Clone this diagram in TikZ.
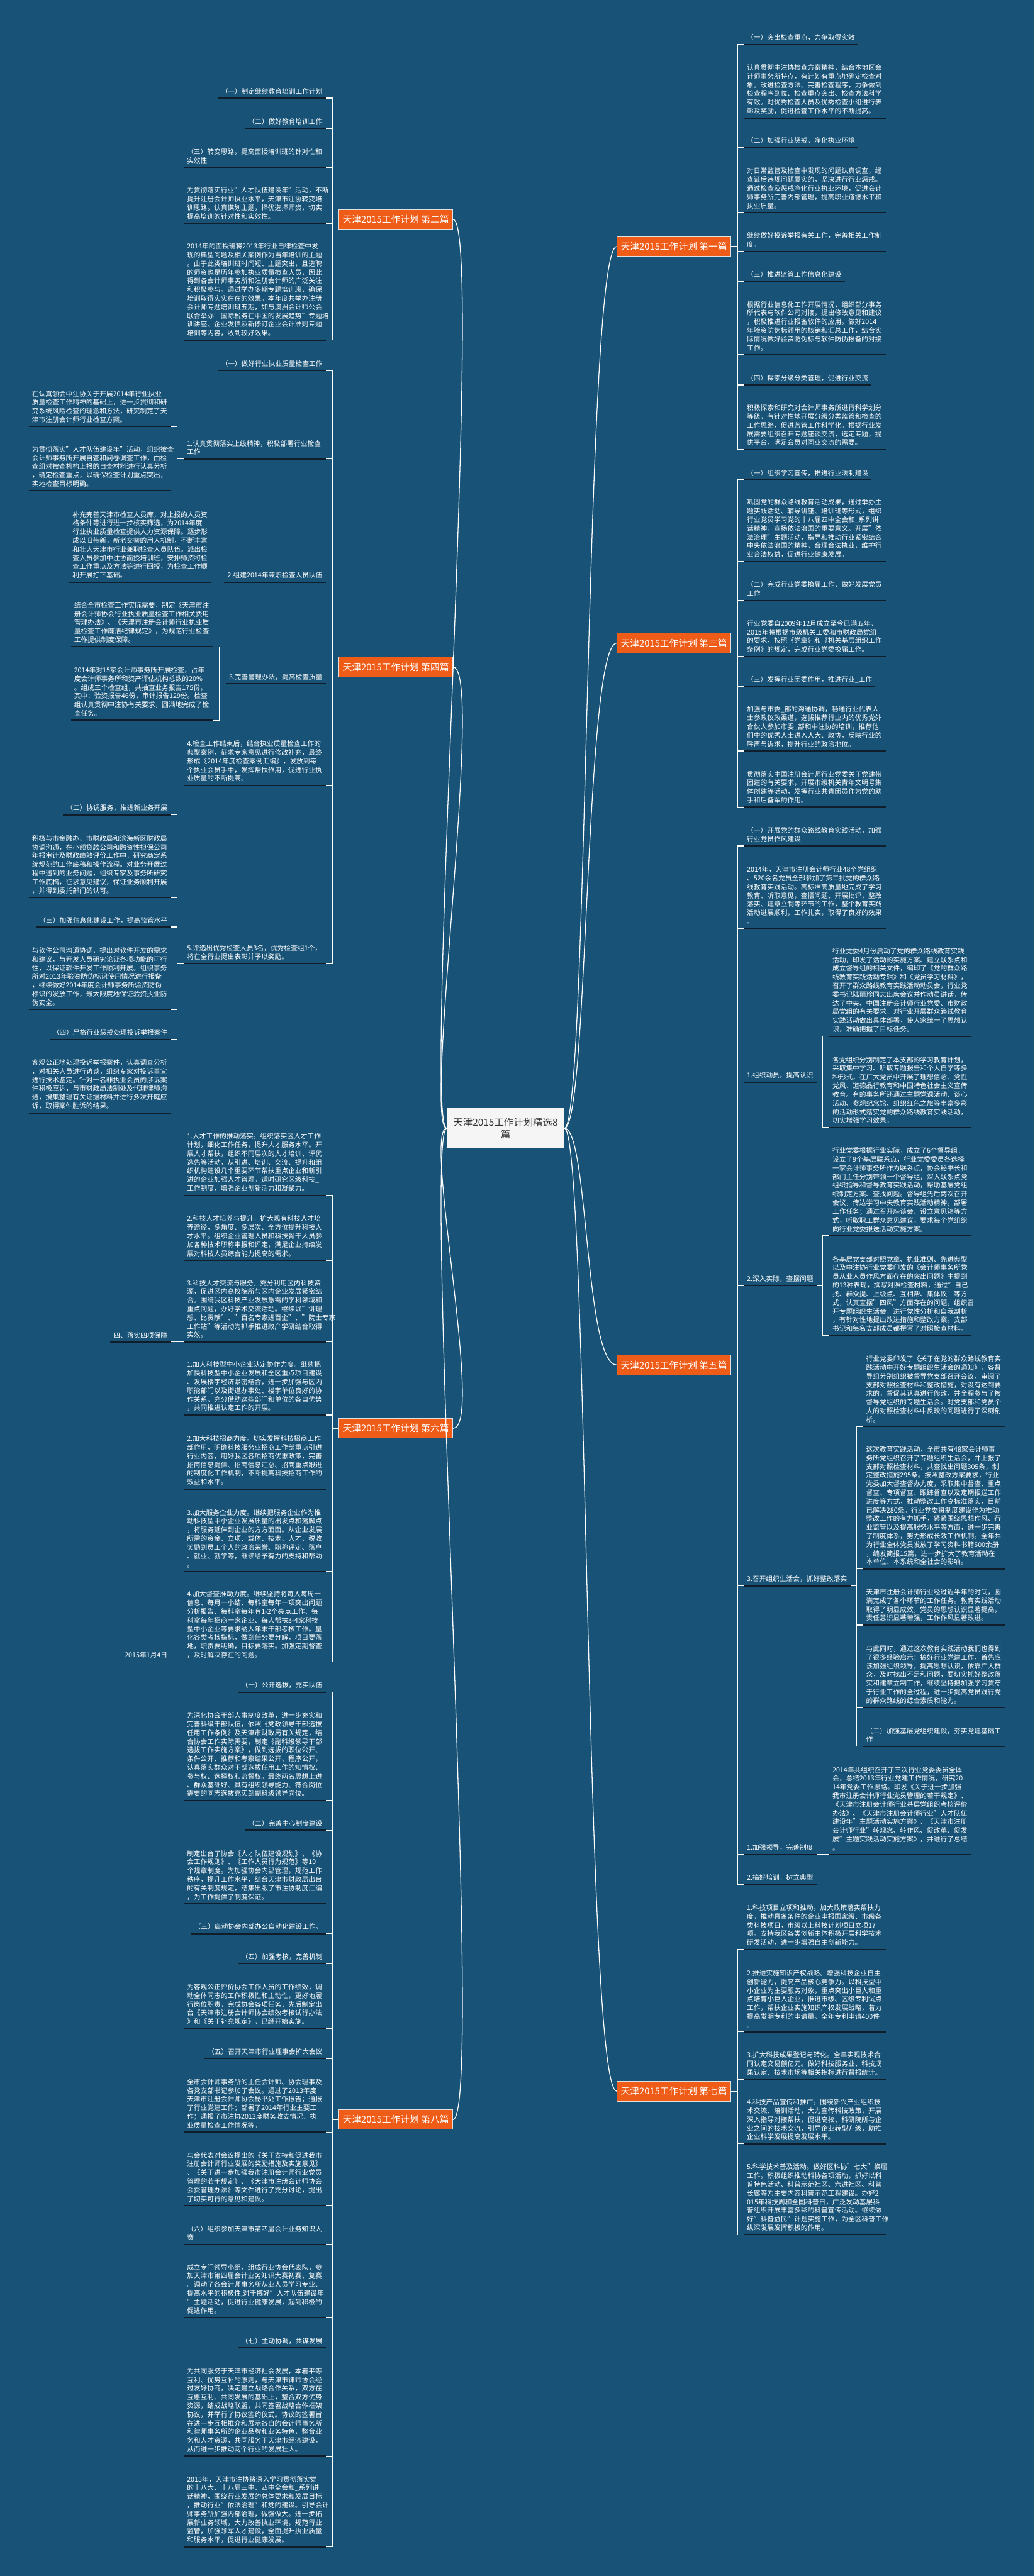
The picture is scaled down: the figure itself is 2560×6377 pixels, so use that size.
\documentclass[tikz,border=0pt]{standalone}
\usepackage{fontspec}
\setmainfont{Noto Sans CJK SC}
\usetikzlibrary{positioning}
\definecolor{bgblue}{RGB}{24,83,119}
\definecolor{topicred}{RGB}{238,92,24}
\definecolor{inkdark}{RGB}{16,30,44}
\definecolor{rimgray}{RGB}{225,225,225}

\begin{document}
\begin{tikzpicture}[x=1pt, y=-1pt,
    para/.style={text=white, text width=335pt, align=left, inner xsep=8pt, inner ysep=9pt,
                 font=\fontsize{16.7}{21.5}\selectfont},
    item/.style={text=white, align=left, inner xsep=8pt, inner ysep=9pt,
                 font=\fontsize{16.7}{21.5}\selectfont},
    topic/.style={fill=topicred, draw=rimgray, line width=1.5pt, text=white, inner xsep=9pt,
                  minimum height=49pt, font=\fontsize{23}{27}\selectfont},
    hub/.style={fill=white!96!black, text=black!80, align=center, inner xsep=16pt, inner ysep=24pt,
                font=\fontsize{24}{30}\selectfont},
    wire/.style={white, line width=2pt},
    uline/.style={inkdark, line width=3pt},
    lnk/.style={white, line width=2pt}]
  \fill[bgblue] (0,0) rectangle (2560,6377);
  \useasboundingbox (0,0) rectangle (2560,6377);

  % centre and the eight topics
  \node[hub] (root) at (1251,2793) {天津2015工作计划精选8\\篇};
  \node[topic, anchor=east] (br1) at (1809,610) {天津2015工作计划 第一篇};
  \node[topic, anchor=west] (br2) at (838,543) {天津2015工作计划 第二篇};
  \node[topic, anchor=east] (br3) at (1809,1592) {天津2015工作计划 第三篇};
  \node[topic, anchor=west] (br4) at (838,1651) {天津2015工作计划 第四篇};
  \node[topic, anchor=east] (br5) at (1809,3379) {天津2015工作计划 第五篇};
  \node[topic, anchor=west] (br6) at (838,3536) {天津2015工作计划 第六篇};
  \node[topic, anchor=east] (br7) at (1809,5177) {天津2015工作计划 第七篇};
  \node[topic, anchor=west] (br8) at (838,5247) {天津2015工作计划 第八篇};
  \foreach \b in {br2,br4,br6,br8}
    \draw[lnk] (root.west) .. controls +(-60,0) and +(80,0) .. (\b.east);
  \foreach \b in {br1,br3,br5,br7}
    \draw[lnk] (root.east) .. controls +(60,0) and +(-80,0) .. (\b.west);

  % 第二篇
  \node[item, anchor=south east] (a1) at (806,243) {（一）制定继续教育培训工作计划};
  \node[item, anchor=south east] (a2) at (806,318) {（二）做好教育培训工作};
  \node[para, anchor=south east] (a3) at (806,414) {（三）转变思路，提高面授培训班的针对性和\\实效性};
  \node[para, anchor=south east] (a4) at (806,553) {为贯彻落实行业"人才队伍建设年"活动，不断\\提升注册会计师执业水平，天津市注协转变培\\训思路，认真谋划主题，择优选择师资，切实\\提高培训的针对性和实效性。};
  \node[para, anchor=south east] (a5) at (806,842) {2014年的面授班将2013年行业自律检查中发\\现的典型问题及相关案例作为当年培训的主题\\。由于此类培训班时间短、主题突出，且选聘\\的师资也是历年参加执业质量检查人员，因此\\得到各会计师事务所和注册会计师的广泛关注\\和积极参与。通过举办多期专题培训班，确保\\培训取得实实在在的效果。本年度共举办注册\\会计师专题培训班五期，如与澳洲会计师公会\\联合举办"国际税务在中国的发展趋势"专题培\\训讲座、企业发债及新修订企业会计准则专题\\培训等内容，收到较好效果。};

  % 第四篇
  \node[item, anchor=south east] (b1) at (806,917) {（一）做好行业执业质量检查工作};
  \node[para, anchor=south east] (b2) at (806,1136) {1.认真贯彻落实上级精神，积极部署行业检查\\工作};
  \node[para, anchor=south east, xshift=-32pt] (b2a) at (b2.west |- 0,1056) {在认真领会中注协关于开展2014年行业执业\\质量检查工作精神的基础上，进一步贯彻和研\\究系统风险检查的理念和方法，研究制定了天\\津市注册会计师行业检查方案。};
  \node[para, anchor=south east, xshift=-32pt] (b2b) at (b2.west |- 0,1215) {为贯彻落实"人才队伍建设年"活动，组织被查\\会计师事务所开展自查和问卷调查工作，由检\\查组对被查机构上报的自查材料进行认真分析\\，确定检查重点，以确保检查计划重点突出，\\实地检查目标明确。};
  \node[item, anchor=south east] (b3) at (806,1441) {2.组建2014年兼职检查人员队伍};
  \node[para, left=32pt of b3.south west, anchor=south east] (b3a) {补充完善天津市检查人员库，对上报的人员资\\格条件等进行进一步核实筛选，为2014年度\\行业执业质量检查提供人力资源保障。逐步形\\成以旧带新，新老交替的用人机制，不断丰富\\和壮大天津市行业兼职检查人员队伍。派出检\\查人员参加中注协面授培训班，安排师资将检\\查工作重点及方法等进行回授，为检查工作顺\\利开展打下基础。};
  \node[item, anchor=south east] (b4) at (806,1693) {3.完善管理办法，提高检查质量};
  \node[para, anchor=south east, xshift=-32pt] (b4a) at (b4.west |- 0,1601) {结合全市检查工作实际需要，制定《天津市注\\册会计师协会行业执业质量检查工作相关费用\\管理办法》、《天津市注册会计师行业执业质\\量检查工作廉洁纪律规定》，为规范行业检查\\工作提供制度保障。};
  \node[para, anchor=south east, xshift=-32pt] (b4b) at (b4.west |- 0,1783) {2014年对15家会计师事务所开展检查，占年\\度会计师事务所和资产评估机构总数的20\%\\。组成三个检查组，共抽查业务报告175份，\\其中：验资报告46份，审计报告129份。检查\\组认真贯彻中注协有关要求，圆满地完成了检\\查任务。};
  \node[para, anchor=south east] (b5) at (806,1944) {4.检查工作结束后，结合执业质量检查工作的\\典型案例，征求专家意见进行修改补充，最终\\形成《2014年度检查案例汇编》，发放到每\\个执业会员手中，发挥帮扶作用，促进行业执\\业质量的不断提高。};
  \node[para, anchor=south east] (b6) at (806,2385) {5.评选出优秀检查人员3名，优秀检查组1个，\\将在全行业提出表彰并予以奖励。};
  \node[item, anchor=south east, xshift=-32pt] (b6a) at (b6.west |- 0,2017) {（二）协调服务，推进新业务开展};
  \node[para, anchor=south east, xshift=-32pt] (b6b) at (b6.west |- 0,2222) {积极与市金融办、市财政局和滨海新区财政局\\协调沟通，在小额贷款公司和融资性担保公司\\年报审计及财政绩效评价工作中，研究商定系\\统规范的工作底稿和操作流程。对业务开展过\\程中遇到的业务问题，组织专家及事务所研究\\工作底稿，征求意见建议，保证业务顺利开展\\，并得到委托部门的认可。};
  \node[item, anchor=south east, xshift=-32pt] (b6c) at (b6.west |- 0,2295) {（三）加强信息化建设工作，提高监管水平};
  \node[para, anchor=south east, xshift=-32pt] (b6d) at (b6.west |- 0,2499) {与软件公司沟通协调，提出对软件开发的需求\\和建议，与开发人员研究论证各项功能的可行\\性，以保证软件开发工作顺利开展。组织事务\\所对2013年验资防伪标识使用情况进行报备\\，继续做好2014年度会计师事务所验资防伪\\标识的发放工作，最大限度地保证验资执业防\\伪安全。};
  \node[item, anchor=south east, xshift=-32pt] (b6e) at (b6.west |- 0,2573) {（四）严格行业惩戒处理投诉举报案件};
  \node[para, anchor=south east, xshift=-32pt] (b6f) at (b6.west |- 0,2755) {客观公正地处理投诉举报案件，认真调查分析\\，对相关人员进行访谈，组织专家对投诉事宜\\进行技术鉴定。针对一名非执业会员的涉诉案\\件积极应诉，与市财政局法制处及代理律师沟\\通，搜集整理有关证据材料并进行多次开庭应\\诉，取得案件胜诉的结果。};

  % 第六篇
  \node[para, anchor=south east] (c1) at (806,2959) {1.人才工作的推动落实。组织落实区人才工作\\计划，细化工作任务，提升人才服务水平。开\\展人才帮扶，组织不同层次的人才培训、评优\\选先等活动，从引进、培训、交流、提升和组\\织机构建设几个重要环节帮扶重点企业和新引\\进的企业加强人才管理。适时研究区级科技\_\\工作制度，增强企业创新活力和凝聚力。};
  \node[para, anchor=south east] (c2) at (806,3120) {2.科技人才培养与提升。扩大现有科技人才培\\养途径，多角度、多层次、全方位提升科技人\\才水平。组织企业管理人员和科技骨干人员参\\加各种技术职称申报和评定，满足企业持续发\\展对科技人员综合能力提高的需求。};
  \node[para, anchor=south east] (c3) at (806,3322) {3.科技人才交流与服务。充分利用区内科技资\\源，促进区内高校院所与区内企业发展紧密结\\合。围绕我区科技产业发展急需的学科领域和\\重点问题，办好学术交流活动。继续以"讲理\\想、比贡献"、"百名专家进百企"、"院士专家\\工作站"等活动为抓手推进政产学研结合取得\\实效。};
  \node[item, left=32pt of c3.south west, anchor=south east] (c3a) {四、落实四项保障};
  \node[para, anchor=south east] (c4) at (806,3503) {1.加大科技型中小企业认定协作力度。继续把\\加快科技型中小企业发展和全区重点项目建设\\、发展楼宇经济紧密结合，进一步加强与区内\\职能部门以及街道办事处、楼宇单位良好的协\\作关系，充分借助这些部门和单位的各自优势\\，共同推进认定工作的开展。};
  \node[para, anchor=south east] (c5) at (806,3686) {2.加大科技招商力度。切实发挥科技招商工作\\部作用，明确科技服务业招商工作部重点引进\\行业内容，用好我区各项招商优惠政策，完善\\招商信息提供、招商信息汇总、招商重点跟进\\的制度化工作机制，不断提高科技招商工作的\\效益和水平。};
  \node[para, anchor=south east] (c6) at (806,3890) {3.加大服务企业力度。继续把服务企业作为推\\动科技型中小企业发展质量的出发点和落脚点\\，将服务延伸到企业的方方面面。从企业发展\\所需的资金、立项、载体、技术、人才、税收\\奖励到员工个人的政治荣誉、职称评定、落户\\、就业、就学等，继续给予有力的支持和帮助\\。};
  \node[para, anchor=south east] (c7) at (806,4114) {4.加大督查推动力度。继续坚持将每人每周一\\信息、每月一小结、每科室每年一项突出问题\\分析报告、每科室每年有1-2个亮点工作、每\\科室每年招商一家企业、每人帮扶3-4家科技\\型中小企业等要求纳入年末干部考核工作。量\\化各类考核指标，做到任务要分解，项目要落\\地，职责要明确，目标要落实。加强定期督查\\，及时解决存在的问题。};
  \node[item, left=32pt of c7.south west, anchor=south east] (c7a) {2015年1月4日};

  % 第八篇
  \node[item, anchor=south east] (d1) at (806,4189) {（一）公开选拔，充实队伍};
  \node[para, anchor=south east] (d2) at (806,4457) {为深化协会干部人事制度改革，进一步充实和\\完善科级干部队伍，依照《党政领导干部选拔\\任用工作条例》及天津市财政局有关规定，结\\合协会工作实际需要，制定《副科级领导干部\\选拔工作实施方案》，做到选拔的职位公开、\\条件公开、推荐和考察结果公开、程序公开，\\认真落实群众对干部选拔任用工作的知情权、\\参与权、选择权和监督权。最终两名思想上进\\、群众基础好、具有组织领导能力、符合岗位\\需要的同志选拔充实到副科级领导岗位。};
  \node[item, anchor=south east] (d3) at (806,4531) {（二）完善中心制度建设};
  \node[para, anchor=south east] (d4) at (806,4713) {制定出台了协会《人才队伍建设规划》、《协\\会工作规则》、《工作人员行为规范》等19\\个规章制度。为加强协会内部管理，规范工作\\秩序，提升工作水平，结合天津市财政局出台\\的有关制度规定，结集出版了市注协制度汇编\\，为工作提供了制度保证。};
  \node[item, anchor=south east] (d5) at (806,4787) {（三）启动协会内部办公自动化建设工作。};
  \node[item, anchor=south east] (d6) at (806,4861) {（四）加强考核，完善机制};
  \node[para, anchor=south east] (d7) at (806,5022) {为客观公正评价协会工作人员的工作绩效，调\\动全体同志的工作积极性和主动性，更好地履\\行岗位职责，完成协会各项任务，先后制定出\\台《天津市注册会计师协会绩效考核试行办法\\》和《关于补充规定》，已经开始实施。};
  \node[item, anchor=south east] (d8) at (806,5096) {（五）召开天津市行业理事会扩大会议};
  \node[para, anchor=south east] (d9) at (806,5278) {全市会计师事务所的主任会计师、协会理事及\\各党支部书记参加了会议。通过了2013年度\\天津市注册会计师协会秘书处工作报告；通报\\了行业党建工作；部署了2014年行业主要工\\作；通报了市注协2013度财务收支情况、执\\业质量检查工作情况等。};
  \node[para, anchor=south east] (d10) at (806,5460) {与会代表对会议提出的《关于支持和促进我市\\注册会计师行业发展的奖励措施及实施意见》\\、《关于进一步加强我市注册会计师行业党员\\管理的若干规定》、《天津市注册会计师协会\\会费管理办法》等文件进行了充分讨论，提出\\了切实可行的意见和建议。};
  \node[para, anchor=south east] (d11) at (806,5556) {（六）组织参加天津市第四届会计业务知识大\\赛};
  \node[para, anchor=south east] (d12) at (806,5737) {成立专门领导小组，组成行业协会代表队，参\\加天津市第四届会计业务知识大赛初赛、复赛\\。调动了各会计师事务所从业人员学习专业、\\提高水平的积极性,对于搞好"人才队伍建设年\\"主题活动，促进行业健康发展，起到积极的\\促进作用。};
  \node[item, anchor=south east] (d13) at (806,5812) {（七）主动协调，共谋发展};
  \node[para, anchor=south east] (d14) at (806,6080) {为共同服务于天津市经济社会发展，本着平等\\互利、优势互补的原则，与天津市律师协会经\\过友好协商，决定建立战略合作关系，双方在\\互惠互利、共同发展的基础上，整合双方优势\\资源，结成战略联盟，共同签署战略合作框架\\协议，并举行了协议签约仪式。协议的签署旨\\在进一步互相推介和展示各自的会计师事务所\\和律师事务所的企业品牌和业务特色，整合业\\务和人才资源，共同服务于天津市经济建设，\\从而进一步推动两个行业的发展壮大。};
  \node[para, anchor=south east] (d15) at (806,6305) {2015年，天津市注协将深入学习贯彻落实党\\的十八大、十八届三中、四中全会和\_系列讲\\话精神，围绕行业发展的总体要求和发展目标\\，推动行业"依法治理"和党的建设。引导会计\\师事务所加强内部治理，做强做大。进一步拓\\展新业务领域，大力改善执业环境，规范行业\\监管，加强领军人才建设，全面提升执业质量\\和服务水平，促进行业健康发展。};

  % 第一篇
  \node[item, anchor=south west] (e1) at (1840,110) {（一）突出检查重点，力争取得实效};
  \node[para, anchor=south west] (e2) at (1840,292) {认真贯彻中注协检查方案精神，结合本地区会\\计师事务所特点，有计划有重点地确定检查对\\象。改进检查方法、完善检查程序，力争做到\\检查程序到位、检查重点突出、检查方法科学\\有效。对优秀检查人员及优秀检查小组进行表\\彰及奖励，促进检查工作水平的不断提高。};
  \node[item, anchor=south west] (e3) at (1840,365) {（二）加强行业惩戒，净化执业环境};
  \node[para, anchor=south west] (e4) at (1840,526) {对日常监管及检查中发现的问题认真调查，经\\查证后违规问题属实的，坚决进行行业惩戒。\\通过检查及惩戒净化行业执业环境，促进会计\\师事务所完善内部管理，提高职业道德水平和\\执业质量。};
  \node[para, anchor=south west] (e5) at (1840,622) {继续做好投诉举报有关工作，完善相关工作制\\度。};
  \node[item, anchor=south west] (e6) at (1840,697) {（三）推进监管工作信息化建设};
  \node[para, anchor=south west] (e7) at (1840,878) {根据行业信息化工作开展情况，组织部分事务\\所代表与软件公司对接，提出修改意见和建议\\，积极推进行业报备软件的应用。做好2014\\年验资防伪标领用的核销和汇总工作，结合实\\际情况做好验资防伪标与软件防伪报备的对接\\工作。};
  \node[item, anchor=south west] (e8) at (1840,953) {（四）探索分级分类管理，促进行业交流};
  \node[para, anchor=south west] (e9) at (1840,1113) {积极探索和研究对会计师事务所进行科学划分\\等级，有针对性地开展分级分类监管和检查的\\工作思路，促进监管工作科学化。根据行业发\\展需要组织召开专题座谈交流，选定专题，提\\供平台，满足会员对同业交流的需要。};

  % 第三篇
  \node[item, anchor=south west] (f1) at (1840,1188) {（一）组织学习宣传，推进行业法制建设};
  \node[para, anchor=south west] (f2) at (1840,1390) {巩固党的群众路线教育活动成果，通过举办主\\题实践活动、辅导讲座、培训班等形式，组织\\行业党员学习党的十八届四中全会和\_系列讲\\话精神，宣扬依法治国的重要意义。开展"依\\法治理"主题活动，指导和推动行业紧密结合\\中央依法治国的精神，合理合法执业，维护行\\业合法权益，促进行业健康发展。};
  \node[para, anchor=south west] (f3) at (1840,1486) {（二）完成行业党委换届工作，做好发展党员\\工作};
  \node[para, anchor=south west] (f4) at (1840,1625) {行业党委自2009年12月成立至今已满五年，\\2015年将根据市级机关工委和市财政局党组\\的要求，按照《党章》和《机关基层组织工作\\条例》的规定，完成行业党委换届工作。};
  \node[item, anchor=south west] (f5) at (1840,1700) {（三）发挥行业团委作用，推进行业\_工作};
  \node[para, anchor=south west] (f6) at (1840,1859) {加强与市委\_部的沟通协调，畅通行业代表人\\士参政议政渠道，选拔推荐行业内的优秀党外\\合伙人参加市委\_部和中注协的培训，推荐他\\们中的优秀人士进入人大、政协，反映行业的\\呼声与诉求，提升行业的政治地位。};
  \node[para, anchor=south west] (f7) at (1840,1998) {贯彻落实中国注册会计师行业党委关于党建带\\团建的有关要求，开展市级机关青年文明号集\\体创建等活动，发挥行业共青团员作为党的助\\手和后备军的作用。};

  % 第五篇
  \node[para, anchor=south west] (g1) at (1840,2094) {（一）开展党的群众路线教育实践活动，加强\\行业党员作风建设};
  \node[para, anchor=south west] (g2) at (1840,2298) {2014年，天津市注册会计师行业48个党组织\\、520余名党员全部参加了第二批党的群众路\\线教育实践活动。高标准高质量地完成了学习\\教育、听取意见，查摆问题、开展批评，整改\\落实、建章立制等环节的工作，整个教育实践\\活动进展顺利，工作扎实，取得了良好的效果\\。};
  \node[item, anchor=south west] (g3) at (1840,2679) {1.组织动员，提高认识};
  \node[para, anchor=south west, xshift=31pt] (g3a) at (g3.east |- 0,2565) {行业党委4月份启动了党的群众路线教育实践\\活动，印发了活动的实施方案、建立联系点和\\成立督导组的相关文件，编印了《党的群众路\\线教育实践活动专辑》和《党员学习材料》，\\召开了群众路线教育实践活动动员会，行业党\\委书记陆丽珍同志出席会议并作动员讲话，传\\达了中央、中国注册会计师行业党委、市财政\\局党组的有关要求，对行业开展群众路线教育\\实践活动做出具体部署，使大家统一了思想认\\识，准确把握了目标任务。};
  \node[para, anchor=south west, xshift=31pt] (g3b) at (g3.east |- 0,2791) {各党组织分别制定了本支部的学习教育计划，\\采取集中学习、听取专题报告和个人自学等多\\种形式，在广大党员中开展了理想信念、党性\\党风、道德品行教育和中国特色社会主义宣传\\教育。有的事务所还通过主题党课活动、谈心\\活动、参观纪念馆、组织红色之旅等丰富多彩\\的活动形式落实党的群众路线教育实践活动，\\切实增强学习效果。};
  \node[item, anchor=south west] (g4) at (1840,3183) {2.深入实际，查摆问题};
  \node[para, anchor=south west, xshift=31pt] (g4a) at (g4.east |- 0,3059) {行业党委根据行业实际，成立了6个督导组，\\设立了9个基层联系点，行业党委委员各选择\\一家会计师事务所作为联系点，协会秘书长和\\部门主任分别带领一个督导组，深入联系点党\\组织指导和督导教育实践活动，帮助基层党组\\织制定方案、查找问题。督导组先后两次召开\\会议，传达学习中央教育实践活动精神，部署\\工作任务；通过召开座谈会、设立意见箱等方\\式，听取职工群众意见建议，要求每个党组织\\向行业党委报送活动实施方案。};
  \node[para, anchor=south west, xshift=31pt] (g4b) at (g4.east |- 0,3306) {各基层党支部对照党章、执业准则、先进典型\\以及中注协行业党委印发的《会计师事务所党\\员从业人员作风方面存在的突出问题》中提到\\的13种表现，撰写对照检查材料，通过"自己\\找、群众提、上级点、互相帮、集体议"等方\\式，认真查摆"四风"方面存在的问题，组织召\\开专题组织生活会，进行党性分析和自我剖析\\，有针对性地提出改进措施和整改方案。支部\\书记和每名支部成员都撰写了对照检查材料。};
  \node[item, anchor=south west] (g5) at (1840,3926) {3.召开组织生活会，抓好整改落实};
  \node[para, anchor=south west, xshift=31pt] (g5a) at (g5.east |- 0,3531) {行业党委印发了《关于在党的群众路线教育实\\践活动中开好专题组织生活会的通知》，各督\\导组分别组织被督导党支部召开会议，审阅了\\支部对照检查材料和整改措施，对没有达到要\\求的，督促其认真进行修改，并全程参与了被\\督导党组织的专题生活会。对党支部和党员个\\人的对照检查材料中反映的问题进行了深刻剖\\析。};
  \node[para, anchor=south west, xshift=31pt] (g5b) at (g5.east |- 0,3884) {这次教育实践活动，全市共有48家会计师事\\务所党组织召开了专题组织生活会，并上报了\\支部对照检查材料，共查找出问题305条，制\\定整改措施295条。按照整改方案要求，行业\\党委加大督查督办力度，采取集中督查、重点\\督查、专项督查、跟踪督查以及定期报送工作\\进度等方式，推动整改工作高标准落实，目前\\已解决280条。行业党委将制度建设作为推动\\整改工作的有力抓手，紧紧围绕思想作风、行\\业监管以及提高服务水平等方面，进一步完善\\了制度体系，努力形成长效工作机制。全年共\\为行业全体党员发放了学习资料书籍500余册\\，编发简报15篇，进一步扩大了教育活动在\\本单位、本系统和全社会的影响。};
  \node[para, anchor=south west, xshift=31pt] (g5c) at (g5.east |- 0,4023) {天津市注册会计师行业经过近半年的时间，圆\\满完成了各个环节的工作任务。教育实践活动\\取得了明显成效，党员的思想认识显著提高，\\责任意识显著增强，工作作风显著改进。};
  \node[para, anchor=south west, xshift=31pt] (g5d) at (g5.east |- 0,4227) {与此同时，通过这次教育实践活动我们也得到\\了很多经验启示：搞好行业党建工作，首先应\\该加强组织领导，提高思想认识，依靠广大群\\众，及时找出不足和问题，要切实抓好整改落\\实和建章立制工作，继续坚持把加强学习贯穿\\于行业工作的全过程，进一步提高党员践行党\\的群众路线的综合素质和能力。};
  \node[para, anchor=south west, xshift=31pt] (g5e) at (g5.east |- 0,4323) {（二）加强基层党组织建设，夯实党建基础工\\作};
  \node[item, anchor=south west] (g6) at (1840,4591) {1.加强领导，完善制度};
  \node[para, right=31pt of g6.south east, anchor=south west] (g6a) {2014年共组织召开了三次行业党委委员全体\\会，总结2013年行业党建工作情况，研究20\\14年党委工作思路。印发《关于进一步加强\\我市注册会计师行业党员管理的若干规定》、\\《天津市注册会计师行业基层党组织考核评价\\办法》、《天津市注册会计师行业"人才队伍\\建设年"主题活动实施方案》、《天津市注册\\会计师行业"转观念、转作风、促改革、促发\\展"主题实践活动实施方案》，并进行了总结\\。};
  \node[item, anchor=south west] (g7) at (1840,4665) {2.搞好培训，树立典型};

  % 第七篇
  \node[para, anchor=south west] (h1) at (1840,4826) {1.科技项目立项和推动。加大政策落实帮扶力\\度，推动具备条件的企业申报国家级、市级各\\类科技项目，市级以上科技计划项目立项17\\项。支持我区各类创新主体积极开展科学技术\\研发活动，进一步增强自主创新能力。};
  \node[para, anchor=south west] (h2) at (1840,5030) {2.推进实施知识产权战略。增强科技企业自主\\创新能力，提高产品核心竞争力。以科技型中\\小企业为主要服务对象，重点突出小巨人和重\\点培育小巨人企业，推进市级、区级专利试点\\工作，帮扶企业实施知识产权发展战略，着力\\提高发明专利的申请量。全年专利申请400件\\。};
  \node[para, anchor=south west] (h3) at (1840,5147) {3.扩大科技成果登记与转化。全年实现技术合\\同认定交易额亿元。做好科技服务业、科技成\\果认定、技术市场等相关指标进行督报统计。};
  \node[para, anchor=south west] (h4) at (1840,5307) {4.科技产品宣传和推广。围绕新兴产业组织技\\术交流、培训活动，大力宣传科技政策，开展\\深入指导对接帮扶，促进高校、科研院所与企\\业之间的技术交流，引导企业转型升级，助推\\企业科学发展提高发展水平。};
  \node[para, anchor=south west] (h5) at (1840,5532) {5.科学技术普及活动。做好区科协"七大"换届\\工作。积极组织推动科协各项活动，抓好以科\\普特色活动、科普示范社区、六进社区、科普\\长廊等为主要内容科普示范工程建设。办好2\\015年科技周和全国科普日，广泛发动基层科\\普组织开展丰富多彩的科普宣传活动。继续做\\好"科普益民"计划实施工作，为全区科普工作\\纵深发展发挥积极的作用。};

  % elbows from each topic to its items
  \foreach \c in {a1,a2,a3,a4,a5}
    \draw[wire] (br2.west) -- ++(-16,0) |- (\c.south east);
  \foreach \c in {b1,b2,b3,b4,b5,b6}
    \draw[wire] (br4.west) -- ++(-16,0) |- (\c.south east);
  \foreach \c in {c1,c2,c3,c4,c5,c6,c7}
    \draw[wire] (br6.west) -- ++(-16,0) |- (\c.south east);
  \foreach \c in {d1,d2,d3,d4,d5,d6,d7,d8,d9,d10,d11,d12,d13,d14,d15}
    \draw[wire] (br8.west) -- ++(-16,0) |- (\c.south east);
  \foreach \c in {e1,e2,e3,e4,e5,e6,e7,e8,e9}
    \draw[wire] (br1.east) -- ++(16,0) |- (\c.south west);
  \foreach \c in {f1,f2,f3,f4,f5,f6,f7}
    \draw[wire] (br3.east) -- ++(16,0) |- (\c.south west);
  \foreach \c in {g1,g2,g3,g4,g5,g6,g7}
    \draw[wire] (br5.east) -- ++(16,0) |- (\c.south west);
  \foreach \c in {h1,h2,h3,h4,h5}
    \draw[wire] (br7.east) -- ++(16,0) |- (\c.south west);

  % second level
  \foreach \p/\c in {b2/b2a,b2/b2b,b3/b3a,b4/b4a,b4/b4b,b6/b6a,b6/b6b,b6/b6c,b6/b6d,b6/b6e,b6/b6f,c3/c3a,c7/c7a}
    \draw[wire] (\p.south west) -- ++(-16,0) |- (\c.south east);
  \foreach \p/\c in {g3/g3a,g3/g3b,g4/g4a,g4/g4b,g5/g5a,g5/g5b,g5/g5c,g5/g5d,g5/g5e,g6/g6a}
    \draw[wire] (\p.south east) -- ++(15,0) |- (\c.south west);

  % dark rules under the texts
  \foreach \n in {a1,a2,a3,a4,a5,b1,b2,b2a,b2b,b3,b3a,b4,b4a,b4b,b5,b6,b6a,b6b,b6c,b6d,b6e,b6f,
                  c1,c2,c3,c3a,c4,c5,c6,c7,c7a,d1,d2,d3,d4,d5,d6,d7,d8,d9,d10,d11,d12,d13,d14,d15,
                  e1,e2,e3,e4,e5,e6,e7,e8,e9,f1,f2,f3,f4,f5,f6,f7,
                  g1,g2,g3,g3a,g3b,g4,g4a,g4b,g5,g5a,g5b,g5c,g5d,g5e,g6,g6a,g7,h1,h2,h3,h4,h5}
    \draw[uline] (\n.south west) -- (\n.south east);
\end{tikzpicture}
\end{document}
